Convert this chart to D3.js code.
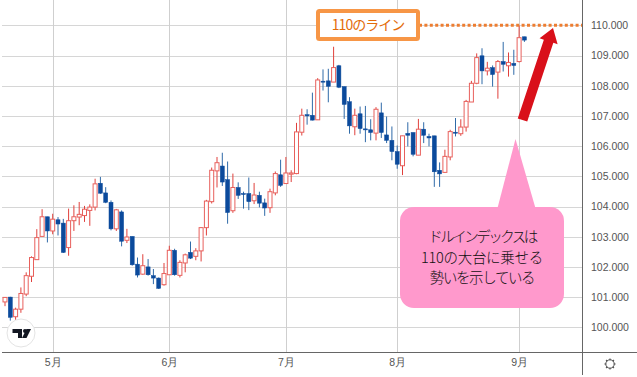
<!DOCTYPE html>
<html>
<head>
<meta charset="utf-8">
<script src="https://cdn.jsdelivr.net/npm/d3@7"></script>
<style>
  html, body { margin: 0; padding: 0; background: #fff; }
  svg { display: block; }
  .tick text { font-family: "Liberation Sans", Arial, sans-serif; fill: #555; }
</style>
</head>
<body>
<div id="chart"></div>
<script>
// daily candles
const open = [100.84,101.0,100.35,100.6,101.1,101.69,102.24,103.01,103.66,103.19,103.56,103.45,102.64,103.53,103.65,103.7,103.87,103.98,104.77,104.45,
  104.14,103.26,103.82,102.88,103.01,102.09,101.76,102.0,101.71,101.63,101.41,101.74,102.55,101.72,102.13,102.48,102.35,102.53,103.3,104.16,
  105.18,105.34,104.89,103.86,104.63,104.43,104.43,104.19,104.37,104.12,103.96,104.45,105.05,104.76,105.07,105.09,106.46,107.04,107.02,106.87,
  108.15,108.16,108.12,108.66,107.97,107.47,106.64,107.07,106.57,106.54,106.43,107.1,106.37,106.19,105.82,105.35,106.42,106.45,105.7,106.56,
  106.32,106.34,105.2,105.13,105.64,106.46,106.41,106.63,107.46,108.08,108.99,108.49,108.6,108.45,108.8,108.66,108.74,108.8,109.62];
const high = [100.99,101.01,100.65,101.32,101.82,102.35,103.25,103.91,103.66,103.76,103.65,103.59,103.93,104.04,104.15,104.02,104.07,104.92,104.98,104.64,
  104.2,103.92,103.87,103.26,103.01,102.31,102.42,102.26,101.93,101.65,102.13,102.7,102.6,102.22,102.44,102.84,102.62,103.32,104.22,105.29,
  105.64,105.78,105.49,105.09,104.8,104.49,104.96,104.78,104.49,104.26,104.59,105.16,105.55,105.64,105.2,106.77,107.24,107.22,107.77,108.25,
  108.54,108.56,109.29,108.69,107.97,107.62,107.24,107.31,107.33,106.89,107.29,107.44,106.98,106.65,106.02,106.34,106.79,106.45,106.9,106.79,
  106.41,106.34,105.46,105.88,106.54,106.93,106.89,107.53,108.16,109.07,109.24,108.79,108.67,108.85,109.45,109.1,109.19,110.0,109.62];
const low = [100.7,100.22,100.24,100.48,101.03,101.5,102.24,103.01,102.81,103.08,103.04,102.46,102.37,103.19,103.38,103.49,103.36,103.87,104.42,104.11,
  103.21,103.19,102.68,102.79,102.04,101.65,101.74,101.71,101.43,101.27,101.38,101.74,101.71,101.65,101.82,102.26,102.22,102.18,103.04,104.1,
  104.63,104.68,103.43,103.79,104.25,103.93,103.88,104.08,103.97,103.69,103.79,104.37,104.65,104.76,104.81,105.07,106.35,106.71,106.85,106.87,
  107.84,107.45,108.12,107.92,106.9,106.41,106.36,106.41,106.13,106.19,106.19,106.27,106.1,105.53,105.25,105.04,105.99,105.66,105.7,106.1,
  105.99,104.65,104.65,105.11,105.53,106.32,106.34,106.48,107.46,108.05,108.05,108.34,107.97,107.57,108.47,108.3,108.36,108.77,109.45];
const close = [100.99,100.33,100.6,101.12,101.71,102.31,102.97,103.66,103.19,103.58,103.42,102.48,103.53,103.66,103.74,103.91,103.98,104.75,104.44,104.14,
  103.26,103.89,102.85,102.99,102.07,101.73,102.04,101.74,101.63,101.29,101.78,102.55,101.74,102.15,102.4,102.29,102.53,103.3,104.18,105.2,
  105.45,104.81,103.8,104.63,104.37,104.4,104.16,104.38,104.11,103.95,104.49,105.09,104.7,105.11,105.11,106.47,107.02,107.0,106.86,108.19,
  108.12,107.98,108.6,107.95,107.38,106.67,107.02,106.58,106.54,106.45,107.22,106.45,106.19,105.82,105.4,106.34,106.36,105.73,106.56,106.36,
  106.27,105.15,105.08,105.66,106.48,106.43,106.63,107.48,108.08,108.93,108.49,108.58,108.37,108.8,108.71,108.77,108.67,109.59,109.51];

const monthIndex = [9, 31, 53, 74, 97];
const monthLabels = ["5月", "6月", "7月", "8月", "9月"];
const priceTicks = [100, 101, 102, 103, 104, 105, 106, 107, 108, 109, 110];
const calloutLines = ["ドルインデックスは", "110の大台に乗せる", "勢いを示している"];

const width = 637, height = 377;
const plotLeft = 2, plotRight = 582, plotBottom = 352;

const svg = d3.select("#chart").append("svg")
  .attr("width", width)
  .attr("height", height);

const x = d3.scaleLinear().domain([0, open.length - 1]).range([5, 524.4]);
const y = d3.scaleLinear().domain([100, 110]).range([327.3, 25.3]);

// grid + axes
const xAxis = d3.axisBottom(x)
  .tickValues(monthIndex)
  .tickFormat((d, i) => monthLabels[i])
  .tickSize(0)
  .tickPadding(7);
const yAxis = d3.axisRight(y)
  .tickValues(priceTicks)
  .tickFormat(d3.format(".3f"))
  .tickSize(0)
  .tickPadding(9);

svg.append("g").selectAll("line")
  .data(priceTicks)
  .join("line")
  .attr("x1", plotLeft).attr("x2", plotRight)
  .attr("y1", d => Math.round(y(d)) + 0.5).attr("y2", d => Math.round(y(d)) + 0.5)
  .attr("stroke", "#d6d6d6");

svg.append("g").selectAll("line")
  .data(monthIndex)
  .join("line")
  .attr("x1", d => Math.round(x(d)) + 0.5).attr("x2", d => Math.round(x(d)) + 0.5)
  .attr("y1", 0).attr("y2", plotBottom)
  .attr("stroke", "#cfcfcf");

// candles
const candles = svg.append("g").selectAll("g")
  .data(open.map((o, i) => ({ i, o, h: high[i], l: low[i], c: close[i] })))
  .join("g");

candles.append("line")
  .attr("x1", d => x(d.i)).attr("x2", d => x(d.i))
  .attr("y1", d => y(d.h)).attr("y2", d => y(d.l))
  .attr("stroke", d => d.c >= d.o ? "#e0403c" : "#2f6aa8")
  .attr("stroke-width", 1);

candles.append("rect")
  .attr("x", d => x(d.i) - 2)
  .attr("width", 4)
  .attr("y", d => y(Math.max(d.o, d.c)))
  .attr("height", d => Math.max(1, Math.abs(y(d.o) - y(d.c))))
  .attr("fill", d => d.c >= d.o ? "#fff" : "#0b4a9c")
  .attr("stroke", d => d.c >= d.o ? "#e8605c" : "#0b4a9c")
  .attr("stroke-width", d => d.c >= d.o ? 1 : 0.5);

// axis frame
const xg = svg.append("g").attr("transform", `translate(0,${plotBottom})`).call(xAxis);
xg.select(".domain").remove();
xg.selectAll("text").attr("font-size", 10.5);

const yg = svg.append("g").attr("transform", `translate(${plotRight},0)`).call(yAxis);
yg.select(".domain").remove();
yg.selectAll("text").attr("font-size", 10.5);

svg.append("line").attr("x1", plotLeft).attr("x2", width)
  .attr("y1", plotBottom + 0.5).attr("y2", plotBottom + 0.5).attr("stroke", "#666");
svg.append("line").attr("x1", plotRight + 0.5).attr("x2", plotRight + 0.5)
  .attr("y1", 0).attr("y2", 375).attr("stroke", "#666");

// gear icon
const gear = svg.append("g").attr("transform", "translate(610,364)");
gear.selectAll("line").data(d3.range(8)).join("line")
  .attr("x1", 0).attr("x2", 0).attr("y1", -4).attr("y2", -5.6)
  .attr("transform", d => `rotate(${d * 45})`)
  .attr("stroke", "#555").attr("stroke-width", 1.2);
gear.append("circle").attr("r", 4.2).attr("fill", "#fff").attr("stroke", "#444");

// TradingView badge
const badge = svg.append("g");
badge.append("circle").attr("cx", 21).attr("cy", 333).attr("r", 14)
  .attr("fill", "#fff").attr("stroke", "#e4e4e4");
badge.append("path").attr("d", "M12.5 329H22V338H18V333H12.5Z").attr("fill", "#131722");
badge.append("circle").attr("cx", 25).attr("cy", 331).attr("r", 2).attr("fill", "#131722");
badge.append("path").attr("d", "M31 329L26.5 338H22L26.5 329Z").attr("fill", "#131722");

// 110 line and its label
svg.append("line")
  .attr("x1", 419).attr("x2", plotRight)
  .attr("y1", y(110)).attr("y2", y(110))
  .attr("stroke", "#ed7d31").attr("stroke-width", 3)
  .attr("stroke-dasharray", "3 2.4");
svg.append("rect")
  .attr("x", 318).attr("y", 11).attr("width", 100).attr("height", 28).attr("rx", 1.5)
  .attr("fill", "#fff").attr("stroke", "#f79646").attr("stroke-width", 4);
svg.append("text")
  .attr("x", 368).attr("y", 30)
  .attr("text-anchor", "middle")
  .attr("font-family", "'Noto Sans CJK JP'")
  .attr("font-size", 14).attr("letter-spacing", -1)
  .attr("fill", "#e36c0a")
  .text("110のライン");

// red arrow
const arrowFrom = [522.5, 120], arrowTo = [553, 28];
const len = Math.hypot(arrowTo[0] - arrowFrom[0], arrowTo[1] - arrowFrom[1]);
const ux = (arrowTo[0] - arrowFrom[0]) / len, uy = (arrowTo[1] - arrowFrom[1]) / len;
const pt = (along, side) => [arrowFrom[0] + ux * along + -uy * side, arrowFrom[1] + uy * along + ux * side];
svg.append("path")
  .attr("d", d3.line()([pt(0, -5), pt(len - 14, -5), pt(len - 14, -9.5), pt(len, 0), pt(len - 14, 9.5), pt(len - 14, 5), pt(0, 5)]) + "Z")
  .attr("fill", "#d9101a");

// pink callout
svg.append("path")
  .attr("d", "M515.5 139L497 210H536Z")
  .attr("fill", "#ff99cc");
svg.append("rect")
  .attr("x", 400).attr("y", 207).attr("width", 164).attr("height", 101).attr("rx", 14)
  .attr("fill", "#ff99cc");
svg.append("g").selectAll("text")
  .data(calloutLines)
  .join("text")
  .attr("x", 482)
  .attr("y", (d, i) => 242 + i * 20.7)
  .attr("text-anchor", "middle")
  .attr("font-family", "'Noto Sans CJK JP'")
  .attr("font-size", 14.5)
  .attr("font-weight", 300)
  .attr("letter-spacing", (d, i) => [-2.5, -0.3, -1.4][i])
  .attr("fill", "#111")
  .text(d => d);
</script>
</body>
</html>
